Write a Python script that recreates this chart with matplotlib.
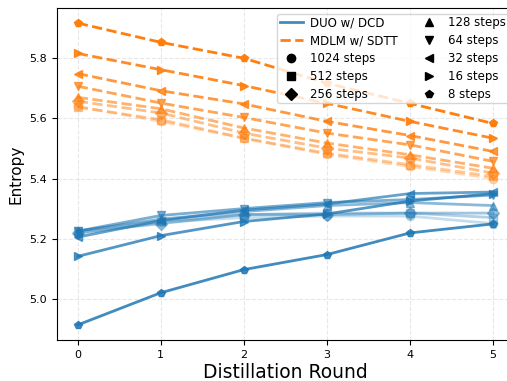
import matplotlib
matplotlib.use('Agg')
import matplotlib.pyplot as plt
from matplotlib.lines import Line2D

rounds = [0, 1, 2, 3, 4, 5]
step_labels = ['1024 steps', '512 steps', '256 steps', '128 steps',
               '64 steps', '32 steps', '16 steps', '8 steps']
markers = ['o', 's', 'D', '^', 'v', '<', '>', 'p']
alphas = [0.3, 0.4, 0.5, 0.6, 0.7, 0.8, 0.9, 1.0]

# DUO w/ DCD entropy per round, one list per step count
duo = [
    [5.215, 5.255, 5.270, 5.275, 5.275, 5.250],   # 1024
    [5.225, 5.260, 5.280, 5.285, 5.285, 5.270],   # 512
    [5.220, 5.250, 5.280, 5.280, 5.285, 5.285],   # 256
    [5.225, 5.265, 5.290, 5.310, 5.320, 5.310],   # 128
    [5.225, 5.277, 5.300, 5.320, 5.330, 5.345],   # 64
    [5.205, 5.260, 5.295, 5.315, 5.350, 5.355],   # 32
    [5.141, 5.210, 5.257, 5.282, 5.325, 5.350],   # 16
    [4.913, 5.020, 5.097, 5.147, 5.219, 5.249],   # 8
]

# MDLM w/ SDTT entropy per round
mdlm = [
    [5.640, 5.590, 5.534, 5.480, 5.440, 5.400],   # 1024
    [5.637, 5.596, 5.534, 5.484, 5.446, 5.407],   # 512
    [5.657, 5.618, 5.551, 5.501, 5.468, 5.418],   # 256
    [5.670, 5.632, 5.568, 5.518, 5.479, 5.434],   # 128
    [5.707, 5.651, 5.603, 5.551, 5.512, 5.457],   # 64
    [5.749, 5.692, 5.648, 5.590, 5.543, 5.490],   # 32
    [5.816, 5.762, 5.709, 5.650, 5.590, 5.534],   # 16
    [5.917, 5.853, 5.800, 5.717, 5.650, 5.583],   # 8
]

blue = '#1f77b4'
orange = '#ff7f0e'

fig = plt.figure(figsize=(5.07, 3.81), dpi=100)
ax = fig.add_axes([0.1124, 0.1076, 0.901, 0.8714])

for i in range(len(step_labels)):
    ax.plot(rounds, duo[i], color=blue, linestyle='-', marker=markers[i],
            markersize=6, linewidth=2, alpha=alphas[i] * 0.85)
    ax.plot(rounds, mdlm[i], color=orange, linestyle='--', marker=markers[i],
            markersize=6, linewidth=2, alpha=alphas[i])

handles = [Line2D([], [], color=blue, linestyle='-', linewidth=2, alpha=0.85),
           Line2D([], [], color=orange, linestyle='--', linewidth=2)]
for m in markers:
    handles.append(Line2D([], [], color='black', linestyle='none', marker=m, markersize=6))
labels = ['DUO w/ DCD', 'MDLM w/ SDTT'] + step_labels
ax.legend(handles, labels, ncol=2, loc='upper right', fontsize=8.5,
          framealpha=0.8, handlelength=2.0, columnspacing=1.6,
          labelspacing=0.42, handletextpad=0.6, borderpad=0.2)

ax.grid(True, linestyle='--', alpha=0.3)
ax.set_xlim(-0.25, 5.25)
ax.set_xticks(rounds)
ax.tick_params(labelsize=8)
ax.set_xlabel('Distillation Round', fontsize=13.5, labelpad=2)
ax.set_ylabel('Entropy', fontsize=11)

fig.savefig('out.png', dpi=100)
